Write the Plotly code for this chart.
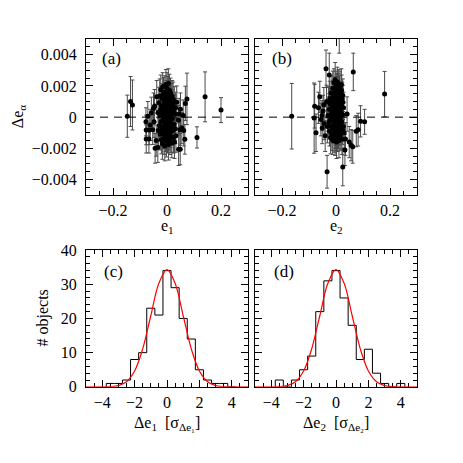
import plotly.graph_objects as go

# panel (a): e1 vs delta e (delta e and errors in units of 1e-3)
E1_A = [-0.147, -0.135, -0.128, 0.141, 0.200, 0.111, 0.074, 0.068, 0.066, 0.049,
        0.043, -0.078, -0.077, -0.077, -0.071, -0.066, -0.067, -0.058, -0.053, -0.046,
        -0.044, -0.038, 0.050, 0.045, 0.048, 0.042, 0.055, 0.062, 0.060, 0.036,
        0.033, -0.034, -0.040, -0.048, -0.050, -0.062,
        -0.030, -0.028, -0.027, -0.026, -0.025, -0.024, -0.023, -0.022, -0.021, -0.020,
        -0.019, -0.018, -0.018, -0.017, -0.016, -0.015, -0.015, -0.014, -0.013, -0.013,
        -0.012, -0.011, -0.011, -0.010, -0.010, -0.009, -0.009, -0.008, -0.008, -0.007,
        -0.007, -0.006, -0.006, -0.005, -0.005, -0.004, -0.004, -0.003, -0.003, -0.002,
        -0.002, -0.001, -0.001, 0.000, 0.000, 0.000, 0.001, 0.001, 0.002, 0.002,
        0.003, 0.003, 0.004, 0.004, 0.005, 0.005, 0.006, 0.006, 0.007, 0.007,
        0.008, 0.008, 0.009, 0.009, 0.010, 0.010, 0.011, 0.011, 0.012, 0.012,
        0.013, 0.013, 0.014, 0.015, 0.015, 0.016, 0.017, 0.018, 0.018, 0.019,
        0.020, 0.021, 0.022, 0.023, 0.024, 0.025, 0.026, 0.027, 0.028, 0.030,
        -0.032, -0.033, 0.031, 0.032]
DE_A = [0.06, 1.00, 0.78, 1.30, 0.45, -1.30, 1.17, 0.88, -1.42, -2.05,
        -2.05, -0.30, -0.82, -1.40, 0.05, -0.82, -1.40, 0.28, -0.80, 0.72,
        -2.00, 1.30, 0.50, 0.20, -0.80, -0.20, -0.70, -0.85, 0.10, 0.95,
        -1.20, -1.95, -1.50, -0.30, 0.55, -0.50,
        0.92, -0.55, 1.35, 0.10, -1.10, 0.45, 1.75, -0.30, -1.45, 0.70,
        -0.80, 1.20, 0.20, -1.70, 1.95, -0.20, 0.55, -1.05, 1.50, 0.00,
        -0.60, 0.85, -1.35, 1.10, -0.15, 0.35, -0.90, 1.60, -1.85, 0.60,
        -0.45, 1.25, 0.15, -1.20, 0.90, 2.10, -0.70, 0.40, -0.05, 1.45,
        -1.55, 0.70, -0.35, 1.85, 0.25, -1.00, 1.05, -0.55, 0.50, -1.40,
        1.60, -0.20, 0.85, -0.85, 2.15, 0.10, -1.75, 1.30, 0.45, -0.45,
        0.95, -1.15, 1.70, 0.00, -0.70, 0.65, 1.20, -1.50, 0.30, -0.30,
        1.55, -0.95, 0.80, -1.25, 0.15, 1.05, -0.55, 0.50, -1.65, 1.35,
        -0.10, 0.75, -0.85, 1.15, -1.30, 0.35, -0.45, 0.95, -1.60, 0.20,
        -0.85, 0.30, -0.75, 0.60]
ERR_A = [1.35, 1.60, 1.60, 1.60, 0.80, 0.68, 1.65, 1.10, 0.95, 1.00,
         1.05, 0.90, 0.95, 0.90, 0.95, 0.95, 0.90, 1.00, 0.95, 1.05,
         0.95, 1.05, 1.05, 1.00, 1.00, 0.95, 1.00, 1.00, 1.00, 1.05,
         1.05, 0.95, 1.00, 1.00, 1.00, 1.00,
         1.00, 0.95, 1.10, 0.90, 1.00, 1.05, 0.95, 1.10, 0.90, 1.00,
         1.05, 0.95, 1.20, 1.00, 0.90, 1.10, 1.00, 0.95, 1.05, 1.15,
         1.00, 0.90, 1.05, 1.00, 1.10, 0.95, 1.00, 1.05, 0.95, 1.10,
         1.00, 0.95, 1.05, 1.00, 1.10, 0.95, 1.00, 1.05, 1.20, 0.90,
         1.00, 1.05, 0.95, 1.00, 1.10, 1.05, 0.95, 1.00, 1.10, 0.90,
         1.00, 1.05, 0.95, 1.10, 0.95, 1.00, 1.00, 1.05, 0.95, 1.10,
         1.00, 0.95, 1.05, 1.10, 1.00, 0.95, 1.05, 0.90, 1.00, 1.10,
         0.95, 1.00, 1.05, 1.00, 0.95, 1.10, 1.00, 1.05, 0.95, 1.00,
         1.05, 1.00, 0.95, 1.10, 1.00, 1.05, 0.95, 1.00, 1.05, 1.00,
         1.00, 1.05, 0.95, 1.00]

# panel (b): e2 vs delta e (units of 1e-3)
E2_B = [-0.164, -0.081, -0.079, -0.074, -0.037, -0.025, -0.033, 0.064, 0.180, 0.091,
        0.106, 0.075, 0.082, 0.049, 0.056, 0.062, 0.025, 0.033, 0.041, 0.021,
        0.025, 0.012, -0.045, -0.048, -0.052, -0.040, -0.051, -0.060, -0.056, -0.065,
        -0.044, -0.035, 0.030, 0.035, 0.028,
        -0.025, -0.024, -0.023, -0.022, -0.021, -0.020, -0.019, -0.018, -0.017, -0.016,
        -0.015, -0.015, -0.014, -0.013, -0.012, -0.012, -0.011, -0.010, -0.010, -0.009,
        -0.008, -0.008, -0.007, -0.007, -0.006, -0.005, -0.005, -0.004, -0.004, -0.003,
        -0.003, -0.002, -0.002, -0.001, -0.001, 0.000, 0.000, 0.000, 0.001, 0.001,
        0.002, 0.002, 0.003, 0.003, 0.004, 0.004, 0.005, 0.005, 0.006, 0.006,
        0.007, 0.007, 0.008, 0.008, 0.009, 0.009, 0.010, 0.010, 0.011, 0.011,
        0.012, 0.012, 0.013, 0.013, 0.014, 0.015, 0.015, 0.016, 0.017, 0.017,
        0.018, 0.019, 0.019, 0.020, 0.021, 0.022, 0.022, 0.023, 0.024, 0.025,
        -0.027, -0.028, 0.027, 0.026, -0.030, -0.032]
DE_B = [0.06, -0.06, 0.70, -1.00, 3.10, 2.70, -3.50, 2.90, 1.48, -0.27,
        -0.30, -0.90, -0.80, -1.60, -1.80, -1.90, -3.20, -2.10, 0.20, 1.70,
        1.40, 5.30, 0.80, 0.40, 0.10, -1.20, -0.70, 1.30, -0.15, 0.60,
        -0.40, 1.00, -1.00, -1.40, 0.60,
        0.50, -0.90, 1.20, -0.20, 0.85, -1.30, 0.15, 1.55, -0.60, 0.40,
        -1.10, 1.00, -0.05, 0.70, -1.50, 1.85, 0.25, -0.75, 1.30, -0.30,
        0.60, 2.20, -1.20, 0.95, -0.50, 1.60, 0.05, -0.95, 0.45, 2.40,
        -1.45, 1.15, -0.15, 0.75, -0.70, 2.00, 0.30, -1.10, 1.40, -0.40,
        0.55, -1.60, 1.80, 0.00, -0.85, 0.95, 2.25, -0.25, 0.65, -1.30,
        1.25, 0.15, -0.60, 1.70, 0.40, -1.00, 2.05, 0.85, -0.35, -1.50,
        1.10, 0.10, -0.75, 1.55, 0.50, -1.20, 1.90, -0.10, 0.90, -0.55,
        1.35, -1.05, 0.30, 2.10, -0.30, 0.70, -1.40, 1.20, -0.80, 0.15,
        -0.35, 0.95, -0.60, 0.95, 0.10, -0.60]
ERR_B = [2.10, 2.25, 1.40, 1.20, 1.20, 1.40, 1.05, 1.20, 1.45, 1.00,
         0.80, 1.00, 1.05, 1.00, 1.00, 1.05, 1.20, 1.00, 1.10, 1.00,
         1.05, 1.20, 1.10, 1.00, 0.95, 1.00, 1.00, 1.00, 1.05, 1.00,
         1.05, 1.05, 1.00, 1.05, 1.00,
         1.00, 0.95, 1.10, 0.90, 1.00, 1.05, 0.95, 1.10, 0.90, 1.00,
         1.05, 0.95, 1.20, 1.00, 0.90, 1.10, 1.00, 0.95, 1.05, 1.15,
         1.00, 0.90, 1.05, 1.00, 1.10, 0.95, 1.00, 1.05, 0.95, 1.10,
         1.00, 0.95, 1.05, 1.00, 1.10, 0.95, 1.00, 1.05, 1.20, 0.90,
         1.00, 1.05, 0.95, 1.00, 1.10, 1.05, 0.95, 1.00, 1.10, 0.90,
         1.00, 1.05, 0.95, 1.10, 0.95, 1.00, 1.00, 1.05, 0.95, 1.10,
         1.00, 0.95, 1.05, 1.10, 1.00, 0.95, 1.05, 0.90, 1.00, 1.10,
         0.95, 1.00, 1.05, 1.00, 0.95, 1.10, 1.00, 1.05, 0.95, 1.00,
         1.05, 1.00, 0.95, 1.10, 1.00, 1.05]

# histograms (c) and (d): bin centres, bin width 0.5
BIN_WIDTH = 0.5
BIN_CENTERS = [-3.5, -3.0, -2.5, -2.0, -1.5, -1.0, -0.5, 0.0, 0.5, 1.0,
               1.5, 2.0, 2.5, 3.0, 3.5, 4.0]
COUNTS_C = [1, 1, 2, 8, 10, 23, 21, 34, 29, 20, 14, 5, 2, 1, 1, 0]
COUNTS_D = [2, 0, 2, 5, 9, 22, 31, 34, 26, 18, 8, 11, 4, 1, 0, 1]

# red gaussian curve
GAUSS_X = [-5.0, -4.5, -4.0, -3.5, -3.0, -2.5, -2.0, -1.5, -1.0, -0.5, 0.0,
           0.5, 1.0, 1.5, 2.0, 2.5, 3.0, 3.5, 4.0, 4.5, 5.0]
GAUSS_Y = [0.0, 0.0, 0.01, 0.07, 0.38, 1.51, 4.64, 11.1, 20.8, 30.3, 34.3,
           30.3, 20.8, 11.1, 4.64, 1.51, 0.38, 0.07, 0.01, 0.0, 0.0]

FONT = "Liberation Serif, Times New Roman, serif"
W = 463.0
OFF = 8  # page body margin shifts the figure


def milli(vals):
    return [v * 1e-3 for v in vals]


def step_outline(centers, counts):
    # outline of a histogram: (left edge, 0) then each bin's left edge, then last right edge
    lefts = [c - BIN_WIDTH / 2 for c in centers]
    xs = [lefts[0]] + lefts + [centers[-1] + BIN_WIDTH / 2]
    ys = [0] + list(counts) + [0]
    return xs, ys


fig = go.Figure()

for xs, ys, errs, ax in [(E1_A, DE_A, ERR_A, ""), (E2_B, DE_B, ERR_B, "2")]:
    fig.add_trace(go.Scatter(
        x=xs, y=milli(ys), mode="markers",
        marker=dict(color="black", size=5),
        error_y=dict(type="data", array=milli(errs), color="#4a4a4a",
                     thickness=1, width=2),
        xaxis="x" + ax, yaxis="y" + ax, showlegend=False))

for counts, ax in [(COUNTS_C, "3"), (COUNTS_D, "4")]:
    hx, hy = step_outline(BIN_CENTERS, counts)
    fig.add_trace(go.Scatter(
        x=hx, y=hy, mode="lines", line_shape="hv",
        line=dict(color="black", width=1),
        xaxis="x" + ax, yaxis="y" + ax, showlegend=False))
    fig.add_trace(go.Scatter(
        x=GAUSS_X, y=GAUSS_Y, mode="lines", line_shape="spline",
        line=dict(color="red", width=1.2), cliponaxis=False,
        xaxis="x" + ax, yaxis="y" + ax, showlegend=False))

tick_font = dict(family=FONT, size=16, color="black")


def axis(domain, rng, dtick, minor, anchor, labels=True, standoff=5):
    return dict(domain=domain, range=rng, dtick=dtick, tick0=0,
                ticks="inside", ticklen=7, tickwidth=1, tickcolor="black",
                minor=dict(dtick=minor, ticks="inside", ticklen=4,
                           tickcolor="black", tickwidth=1),
                showline=True, linecolor="black", linewidth=1,
                mirror="allticks", showgrid=False, zeroline=False,
                showticklabels=labels, tickfont=tick_font,
                anchor=anchor, ticklabelstandoff=standoff, layer="below traces")


def px_x(p):
    return (p - OFF) / W


def px_y(p):
    return 1 - (p - OFF) / W


xa = [px_x(86), px_x(248)]
xb = [px_x(255), px_x(417)]
ytop = [px_y(194), px_y(32)]
ybot = [px_y(393), px_y(251)]

fig.update_layout(
    width=463, height=463,
    margin=dict(l=0, r=0, t=0, b=0),
    paper_bgcolor="white", plot_bgcolor="white",
    font=dict(family=FONT, size=16, color="black"),
    xaxis=axis(xa, [-0.3, 0.3], 0.2, 0.05, "y", standoff=1),
    yaxis=axis(ytop, [-0.005, 0.005], 0.002, 0.0005, "x"),
    xaxis2=axis(xb, [-0.3, 0.3], 0.2, 0.05, "y2", standoff=1),
    yaxis2=axis(ytop, [-0.005, 0.005], 0.002, 0.0005, "x2", labels=False),
    xaxis3=axis(xa, [-5, 5], 2, 0.5, "y3", standoff=1),
    yaxis3=axis(ybot, [0, 40], 10, 2, "x3"),
    xaxis4=axis(xb, [-5, 5], 2, 0.5, "y4", standoff=1),
    yaxis4=axis(ybot, [0, 40], 10, 2, "x4", labels=False),
)

# dashed zero lines in the top panels
for ax in ["", "2"]:
    fig.add_shape(type="line", xref="x" + ax + " domain", yref="y" + ax,
                  x0=0, x1=1, y0=0, y1=0,
                  line=dict(color="black", width=1, dash="8px,6px"))

# panel letters
for text, ax, px, py in [("(a)", "", 0.085, 0.875), ("(b)", "2", 0.09, 0.875),
                         ("(c)", "3", 0.10, 0.845), ("(d)", "4", 0.105, 0.845)]:
    fig.add_annotation(text=text, xref="x" + ax + " domain", yref="y" + ax + " domain",
                       x=px, y=py, xanchor="left", yanchor="middle",
                       showarrow=False, font=dict(family=FONT, size=17))

# axis titles
titles = [
    ("e<sub>1</sub>", 167, 227, 0),
    ("e<sub>2</sub>", 336, 227, 0),
    ("Δe<sub>α</sub>", 18, 113, -90),
    ("# objects", 43, 322, -90),
    ("Δe<sub>1</sub>  [σ<sub>Δe₁</sub>]", 167, 431, 0),
    ("Δe<sub>2</sub>  [σ<sub>Δe₂</sub>]", 336, 431, 0),
]
for text, px, py, ang in titles:
    fig.add_annotation(text=text, xref="paper", yref="paper", x=px_x(px), y=px_y(py),
                       xanchor="center", yanchor="middle", textangle=ang,
                       showarrow=False, font=dict(family=FONT, size=16))

fig.write_html("out.html")
